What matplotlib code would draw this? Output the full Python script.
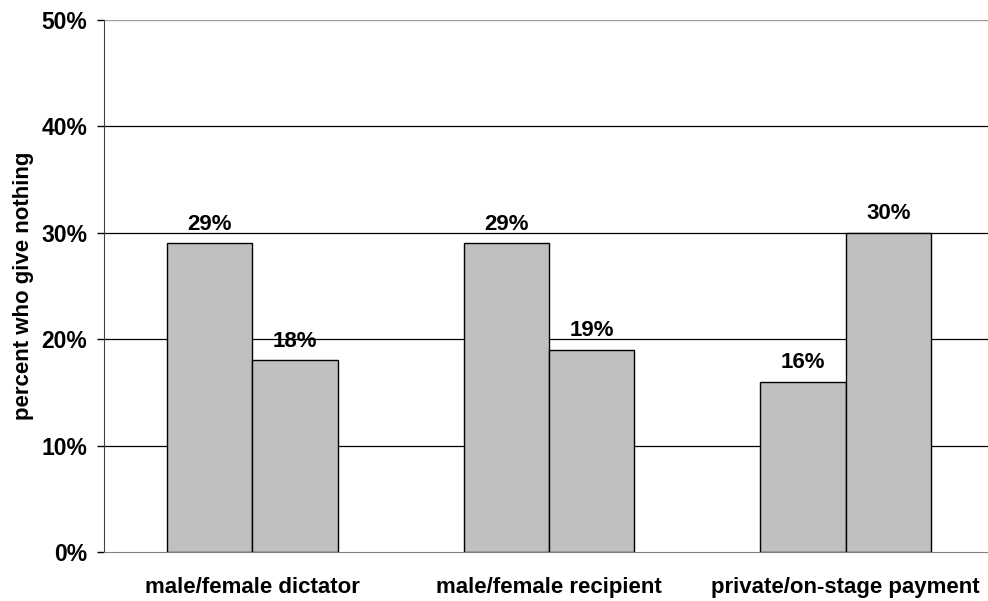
import matplotlib
matplotlib.use("Agg")
import matplotlib.pyplot as plt
import numpy as np

categories = ["male/female dictator", "male/female recipient", "private/on-stage payment"]
first_values = [29, 29, 16]
second_values = [18, 19, 30]
yticks = [0, 10, 20, 30, 40, 50]

plt.rcParams['font.family'] = ['Liberation Sans', 'DejaVu Sans']
plt.rcParams['font.weight'] = 'bold'

fig = plt.figure(figsize=(9.88, 6.01), dpi=100)
ax = fig.add_axes([104/988, 49/601, 890/988, 532/601])

x = np.arange(len(categories))
w = 0.288
b1 = ax.bar(x - w/2, first_values, w, color='#C0C0C0', edgecolor='black', linewidth=1, zorder=3)
b2 = ax.bar(x + w/2, second_values, w, color='#C0C0C0', edgecolor='black', linewidth=1, zorder=3)

for bars, vals in ((b1, first_values), (b2, second_values)):
    for r, v in zip(bars, vals):
        ax.text(r.get_x() + r.get_width()/2, v + 1.3, f"{v}%", ha='center', va='baseline',
                fontsize=16, fontweight='bold')

ax.set_xlim(-0.5, 2.5)
ax.set_ylim(0, 50)
ax.set_yticks(yticks)
ax.set_yticklabels([f"{t}%" for t in yticks], fontsize=16.5, fontweight='bold')
ax.set_xticks(x)
ax.set_xticklabels(categories, fontsize=16, fontweight='bold')
ax.tick_params(axis='x', length=0, pad=18)
ax.tick_params(axis='y', length=5, width=1, pad=7)

for t in [10, 20, 30, 40]:
    ax.axhline(t, color='black', linewidth=0.9, zorder=1)
ax.axhline(50, color='#A0A0A0', linewidth=1, zorder=1)

for s in ['top', 'right']:
    ax.spines[s].set_visible(False)
ax.spines['bottom'].set_color('#808080')
ax.spines['left'].set_color('#404040')

ax.set_ylabel("percent who give nothing", fontsize=16, fontweight='bold', labelpad=5)

fig.savefig("out.png", dpi=100)
